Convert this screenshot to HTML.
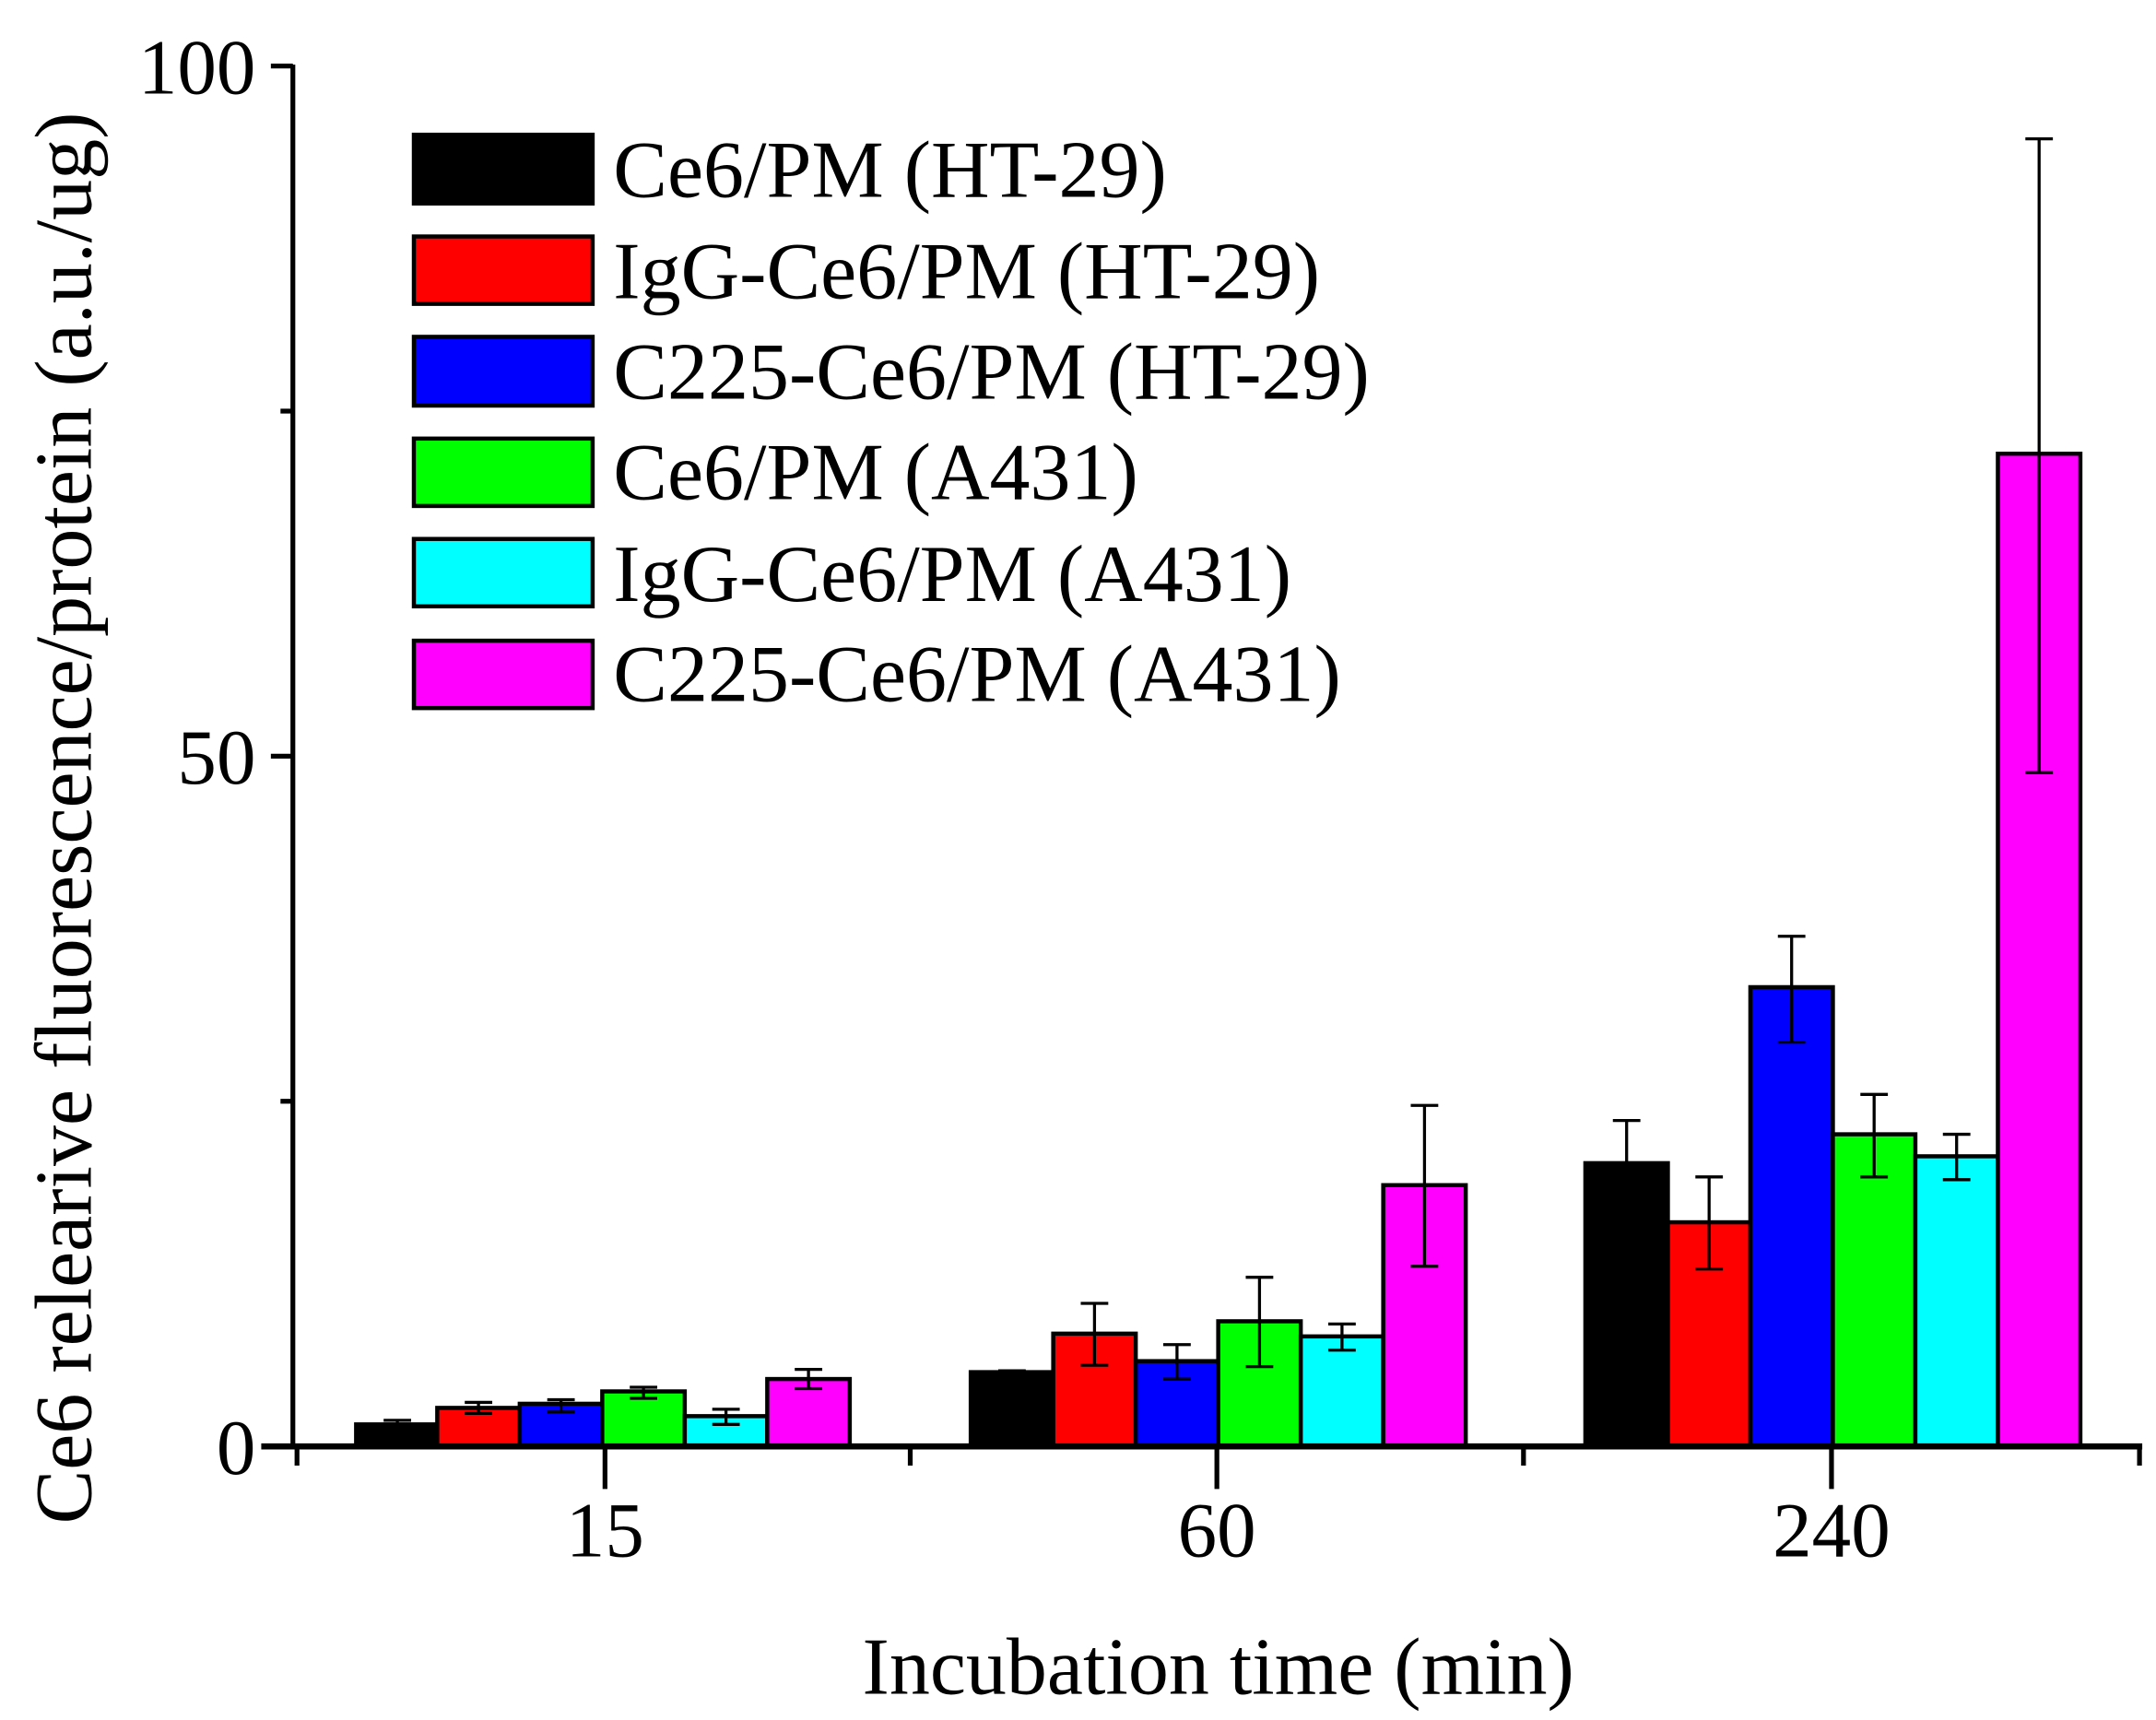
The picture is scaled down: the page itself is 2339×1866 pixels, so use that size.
<!DOCTYPE html>
<html><head><style>html,body{margin:0;padding:0;background:#fff}svg{display:block}</style></head>
<body>
<svg width="2339" height="1866" viewBox="0 0 1568 1251" preserveAspectRatio="none" xmlns="http://www.w3.org/2000/svg" font-family="Liberation Serif, serif">
<g stroke="#000" stroke-width="3">
<rect x="259" y="1036" width="59" height="16" fill="#000"/>
<rect x="318" y="1024" width="60" height="28" fill="#f00"/>
<rect x="378" y="1021" width="60" height="31" fill="#00f"/>
<rect x="438" y="1012" width="60" height="40" fill="#0f0"/>
<rect x="498" y="1030" width="60" height="22" fill="#0ff"/>
<rect x="558" y="1003" width="60" height="49" fill="#f0f"/>
<rect x="706" y="998" width="60" height="54" fill="#000"/>
<rect x="766" y="970" width="60" height="82" fill="#f00"/>
<rect x="826" y="990" width="60" height="62" fill="#00f"/>
<rect x="886" y="961" width="60" height="91" fill="#0f0"/>
<rect x="946" y="972" width="60" height="80" fill="#0ff"/>
<rect x="1006" y="862" width="60" height="190" fill="#f0f"/>
<rect x="1153" y="846" width="60" height="206" fill="#000"/>
<rect x="1213" y="889" width="60" height="163" fill="#f00"/>
<rect x="1273" y="718" width="60" height="334" fill="#00f"/>
<rect x="1333" y="825" width="60" height="227" fill="#0f0"/>
<rect x="1393" y="841" width="60" height="211" fill="#0ff"/>
<rect x="1453" y="330" width="60" height="722" fill="#f0f"/>
</g>
<g stroke="#000" stroke-width="2.2" fill="none">
<path d="M289 1033V1039M279 1033H299"/>
<path d="M348 1020V1028M338 1020H358M338 1028H358"/>
<path d="M408 1018V1027M398 1018H418M398 1027H418"/>
<path d="M468 1009V1017M458 1009H478M458 1017H478"/>
<path d="M528 1025V1036M518 1025H538M518 1036H538"/>
<path d="M588 996V1010M578 996H598M578 1010H598"/>
<path d="M736 997V999M726 997H746"/>
<path d="M796 948V993M786 948H806M786 993H806"/>
<path d="M856 978V1003M846 978H866M846 1003H866"/>
<path d="M916 929V994M906 929H926M906 994H926"/>
<path d="M976 963V982M966 963H986M966 982H986"/>
<path d="M1036 804V921M1026 804H1046M1026 921H1046"/>
<path d="M1183 815V877M1173 815H1193M1173 877H1193"/>
<path d="M1243 856V923M1233 856H1253M1233 923H1253"/>
<path d="M1303 681V758M1293 681H1313M1293 758H1313"/>
<path d="M1363 796V856M1353 796H1373M1353 856H1373"/>
<path d="M1423 825V858M1413 825H1433M1413 858H1433"/>
<path d="M1483 101V562M1473 101H1493M1473 562H1493"/>
</g>
<g stroke="#000" stroke-width="3.5" fill="none">
<path d="M213 47V1052"/>
<path d="M190 1052H1558" stroke-width="4.5"/>
<path d="M197 48H213M197 550H213M204 299H213M204 801H213"/>
<path d="M440 1052V1083M885 1052V1083M1332 1052V1083M216 1052V1066M662 1052V1066M1108 1052V1066M1556 1052V1066"/>
</g>
<g font-size="57" fill="#000">
<text x="186" y="68" text-anchor="end">100</text>
<text x="186" y="570" text-anchor="end">50</text>
<text x="186" y="1072" text-anchor="end">0</text>
<text x="440" y="1132" text-anchor="middle">15</text>
<text x="885" y="1132" text-anchor="middle">60</text>
<text x="1332" y="1132" text-anchor="middle">240</text>
<text x="886" y="1232" text-anchor="middle" font-size="59">Incubation time (min)</text>
<text transform="translate(66,595) rotate(-90)" text-anchor="middle" font-size="59">Ce6 relearive fluorescence/protein (a.u./ug)</text>
</g>
<g stroke="#000" stroke-width="3">
<rect x="301" y="98" width="130" height="50" fill="#000"/>
<rect x="301" y="172" width="130" height="49" fill="#f00"/>
<rect x="301" y="245" width="130" height="50" fill="#00f"/>
<rect x="301" y="319" width="130" height="49" fill="#0f0"/>
<rect x="301" y="392" width="130" height="49" fill="#0ff"/>
<rect x="301" y="466" width="130" height="49" fill="#f0f"/>
</g>
<g font-size="59" fill="#000">
<text x="446" y="143">Ce6/PM (HT-29)</text>
<text x="446" y="217">IgG-Ce6/PM (HT-29)</text>
<text x="446" y="290">C225-Ce6/PM (HT-29)</text>
<text x="446" y="363">Ce6/PM (A431)</text>
<text x="446" y="437">IgG-Ce6/PM (A431)</text>
<text x="446" y="510">C225-Ce6/PM (A431)</text>
</g>
</svg>
</body></html>
